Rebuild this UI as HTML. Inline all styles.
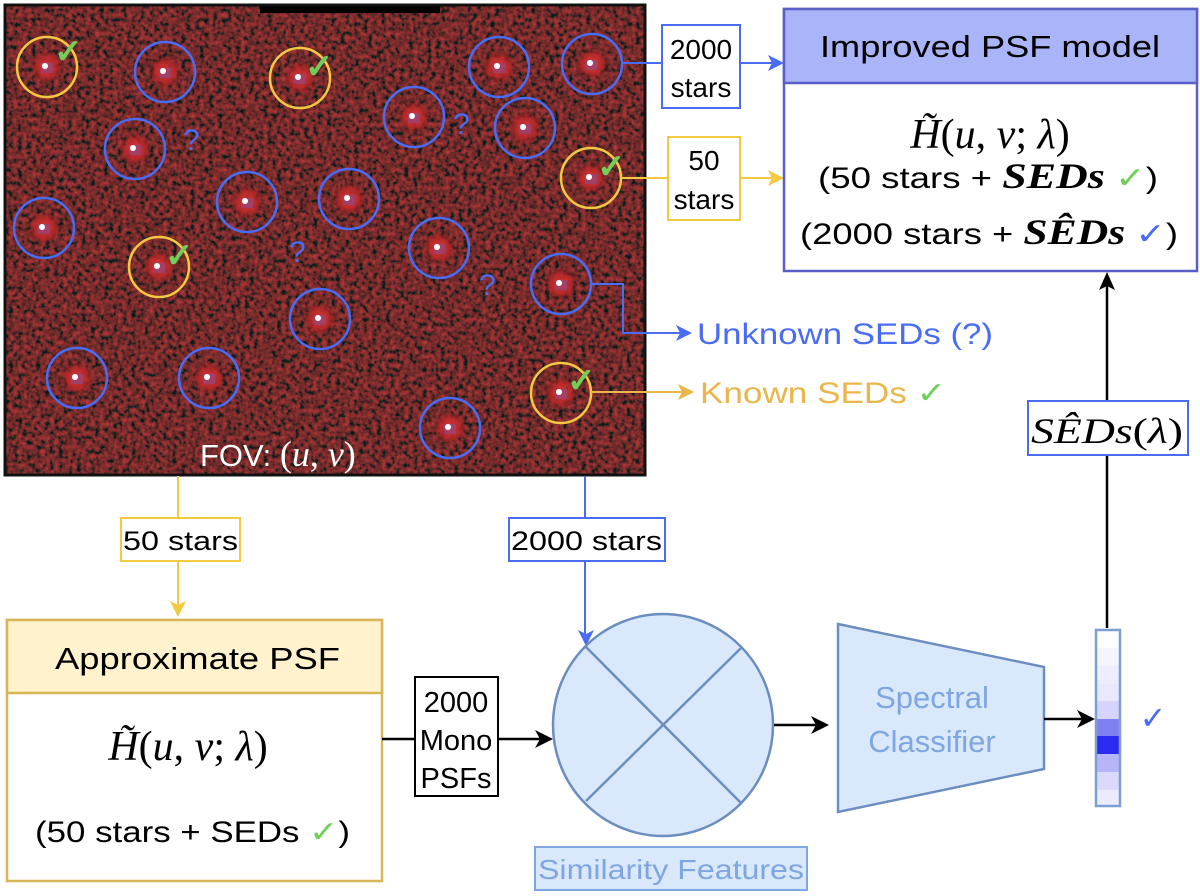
<!DOCTYPE html>
<html><head><meta charset="utf-8"><style>
html,body{margin:0;padding:0;background:#fff}
svg{display:block}
text{font-family:"Liberation Sans",sans-serif}
.m{font-family:"Liberation Serif",serif;font-style:italic}
</style></head><body>
<svg width="1200" height="896" viewBox="0 0 1200 896" xmlns="http://www.w3.org/2000/svg">
<defs>
<filter id="noise" x="0" y="0" width="100%" height="100%">
<feTurbulence type="fractalNoise" baseFrequency="0.22" numOctaves="2" seed="3" result="t"/>
<feColorMatrix type="matrix" values="1.0 0 0 0 -0.3  0.06 0 0 0 0  0.06 0 0 0 0  0 0 0 0 1"/>
</filter>
<radialGradient id="sg"><stop offset="0" stop-color="#e03a3a"/><stop offset="0.6" stop-color="#c02828" stop-opacity="0.8"/><stop offset="1" stop-color="#801818" stop-opacity="0"/></radialGradient>
<g id="star"><circle r="17" fill="url(#sg)"/><rect x="-6" y="-4" width="12" height="10" fill="#8a4a8a" opacity="0.6"/><circle cx="-2" cy="-1" r="3" fill="#fff"/></g>
</defs>

<rect x="5" y="5" width="640" height="470" fill="#520c0c"/>
<rect x="5" y="5" width="640" height="470" filter="url(#noise)" opacity="0.85"/>
<rect x="260" y="5" width="180" height="8" fill="#000"/>
<rect x="5" y="5" width="640" height="470" fill="none" stroke="#111" stroke-width="3"/>

<g>
<use href="#star" x="47" y="67"/><use href="#star" x="300" y="78"/><use href="#star" x="159" y="267"/><use href="#star" x="591" y="178"/><use href="#star" x="561" y="393"/>
<use href="#star" x="165" y="72"/><use href="#star" x="135" y="149"/><use href="#star" x="414" y="117"/><use href="#star" x="499" y="67"/><use href="#star" x="592" y="64"/><use href="#star" x="525" y="128"/><use href="#star" x="247" y="202"/><use href="#star" x="349" y="199"/><use href="#star" x="44" y="228"/><use href="#star" x="439" y="248"/><use href="#star" x="320" y="319"/><use href="#star" x="561" y="284"/><use href="#star" x="77" y="378"/><use href="#star" x="209" y="378"/><use href="#star" x="450" y="428"/>
</g>
<g fill="none" stroke="#f5c842" stroke-width="2.5">
<circle cx="47" cy="67" r="30"/><circle cx="300" cy="78" r="30"/><circle cx="159" cy="267" r="30"/><circle cx="591" cy="178" r="30"/><circle cx="561" cy="393" r="30"/>
</g>
<g fill="none" stroke="#4a6cf5" stroke-width="2.5">
<circle cx="165" cy="72" r="30"/><circle cx="135" cy="149" r="30"/><circle cx="414" cy="117" r="30"/><circle cx="499" cy="67" r="30"/><circle cx="592" cy="64" r="30"/><circle cx="525" cy="128" r="30"/><circle cx="247" cy="202" r="30"/><circle cx="349" cy="199" r="30"/><circle cx="44" cy="228" r="30"/><circle cx="439" cy="248" r="30"/><circle cx="320" cy="319" r="30"/><circle cx="561" cy="284" r="30"/><circle cx="77" cy="378" r="30"/><circle cx="209" cy="378" r="30"/><circle cx="450" cy="428" r="30"/>
</g>
<g fill="#6fcf5a" font-size="34" font-weight="bold">
<text x="54" y="63">✓</text><text x="305" y="78">✓</text><text x="165" y="267">✓</text><text x="597" y="178">✓</text><text x="567" y="392">✓</text>
</g>
<g fill="#4a6cf5" font-size="30">
<text x="183" y="150">?</text><text x="453" y="134">?</text><text x="289" y="262">?</text><text x="479" y="295">?</text>
</g>
<text x="200" y="466" fill="#fff" font-size="31">FOV: <tspan class="m" font-size="36" style="font-style:normal">(</tspan><tspan class="m" font-size="36">u</tspan><tspan class="m" font-size="36" style="font-style:normal">, </tspan><tspan class="m" font-size="36">v</tspan><tspan class="m" font-size="36" style="font-style:normal">)</tspan></text>

<line x1="622" y1="63" x2="780" y2="63" stroke="#4a6cf5" stroke-width="2"/>
<path d="M784,63 L768,55 L772,63 L768,71z" fill="#4a6cf5"/>
<rect x="662" y="25" width="78" height="83" fill="#fff" stroke="#4a6cf5" stroke-width="2"/>
<text x="701" y="59" font-size="28" text-anchor="middle">2000</text>
<text x="701" y="97" font-size="28" text-anchor="middle">stars</text>

<line x1="621" y1="178" x2="780" y2="178" stroke="#f5c842" stroke-width="2"/>
<path d="M784,178 L768,170 L772,178 L768,186z" fill="#f5c842"/>
<rect x="668" y="137" width="72" height="83" fill="#fff" stroke="#f5c842" stroke-width="2"/>
<text x="704" y="170" font-size="28" text-anchor="middle">50</text>
<text x="704" y="209" font-size="28" text-anchor="middle">stars</text>

<rect x="784" y="9" width="413" height="262" fill="#fff" stroke="#5a5fc8" stroke-width="2.5"/>
<rect x="784" y="9" width="413" height="74" fill="#aab4f8" stroke="#5a5fc8" stroke-width="2.5"/>
<text x="820" y="57" font-size="31" textLength="340" lengthAdjust="spacingAndGlyphs">Improved PSF model</text>
<text x="990" y="148" font-size="42" class="m" text-anchor="middle">H̃<tspan style="font-style:normal">(</tspan>u<tspan style="font-style:normal">, </tspan>v<tspan style="font-style:normal">; </tspan>λ<tspan style="font-style:normal">)</tspan></text>
<text x="818" y="188" font-size="30" textLength="340" lengthAdjust="spacingAndGlyphs">(50 stars + <tspan class="m" font-size="36" font-weight="bold">SEDs</tspan> <tspan fill="#6fcf5a">✓</tspan>)</text>
<text x="800" y="244" font-size="30" textLength="378" lengthAdjust="spacingAndGlyphs">(2000 stars + <tspan class="m" font-size="36" font-weight="bold">SÊDs</tspan> <tspan fill="#4a6cf5">✓</tspan>)</text>

<polyline points="591,284 623,284 623,333 688,333" fill="none" stroke="#4a6cf5" stroke-width="2"/>
<path d="M692,333 L676,325 L680,333 L676,341z" fill="#4a6cf5"/>
<text x="697" y="344" font-size="30" fill="#4a6cf5" textLength="296" lengthAdjust="spacingAndGlyphs">Unknown SEDs (?)</text>
<line x1="591" y1="392" x2="690" y2="392" stroke="#eab54a" stroke-width="2"/>
<path d="M694,392 L678,384 L682,392 L678,400z" fill="#eab54a"/>
<text x="700" y="403" font-size="30" fill="#eab54a" textLength="246" lengthAdjust="spacingAndGlyphs">Known SEDs <tspan fill="#6fcf5a">✓</tspan></text>

<line x1="1107" y1="628" x2="1107" y2="276" stroke="#000" stroke-width="2.5"/>
<path d="M1107,272 L1099,290 L1107,286 L1115,290z" fill="#000"/>
<rect x="1028" y="401" width="160" height="54" fill="#fff" stroke="#4a6cf5" stroke-width="2"/>
<text x="1031" y="443" font-size="36" class="m" textLength="152" lengthAdjust="spacingAndGlyphs">SÊDs<tspan style="font-style:normal">(</tspan>λ<tspan style="font-style:normal">)</tspan></text>

<line x1="178" y1="476" x2="178" y2="612" stroke="#f5c842" stroke-width="2"/>
<path d="M178,617 L170,601 L178,605 L186,601z" fill="#f5c842"/>
<rect x="121" y="518" width="119" height="43" fill="#fff" stroke="#f5c842" stroke-width="2"/>
<text x="123" y="550" font-size="27" textLength="115" lengthAdjust="spacingAndGlyphs">50 stars</text>

<line x1="585" y1="476" x2="585" y2="640" stroke="#4a6cf5" stroke-width="2"/>
<path d="M586,646 L578,630 L586,634 L594,630z" fill="#4a6cf5"/>
<rect x="509" y="518" width="156" height="43" fill="#fff" stroke="#4a6cf5" stroke-width="2"/>
<text x="511" y="550" font-size="27" textLength="151" lengthAdjust="spacingAndGlyphs">2000 stars</text>

<rect x="7" y="620" width="375" height="261" fill="#fff" stroke="#d6b656" stroke-width="2.5"/>
<rect x="7" y="620" width="375" height="73" fill="#fff2cc" stroke="#d6b656" stroke-width="2.5"/>
<text x="55" y="669" font-size="31" textLength="285" lengthAdjust="spacingAndGlyphs">Approximate PSF</text>
<text x="188" y="760" font-size="42" class="m" text-anchor="middle">H̃<tspan style="font-style:normal">(</tspan>u<tspan style="font-style:normal">, </tspan>v<tspan style="font-style:normal">; </tspan>λ<tspan style="font-style:normal">)</tspan></text>
<text x="35" y="842" font-size="30" textLength="315" lengthAdjust="spacingAndGlyphs">(50 stars + SEDs <tspan fill="#6fcf5a">✓</tspan>)</text>

<line x1="382" y1="739" x2="548" y2="739" stroke="#000" stroke-width="2.5"/>
<path d="M553,739 L535,730 L540,739 L535,748z" fill="#000"/>
<rect x="415" y="677" width="83" height="119" fill="#fff" stroke="#000" stroke-width="2"/>
<text x="456" y="712" font-size="29" text-anchor="middle">2000</text>
<text x="456" y="750" font-size="29" text-anchor="middle">Mono</text>
<text x="456" y="788" font-size="29" text-anchor="middle">PSFs</text>

<ellipse cx="663" cy="725" rx="110" ry="111" fill="#dae8fc" stroke="#6c8ebf" stroke-width="2.5"/>
<line x1="586" y1="647" x2="741" y2="803" stroke="#6c8ebf" stroke-width="2.5"/>
<line x1="741" y1="648" x2="586" y2="801" stroke="#6c8ebf" stroke-width="2.5"/>
<rect x="535" y="847" width="272" height="43" fill="#dae8fc" stroke="#7ea6e0" stroke-width="2"/>
<text x="538" y="879" font-size="28" fill="#7ea6e0" textLength="266" lengthAdjust="spacingAndGlyphs">Similarity Features</text>

<line x1="774" y1="725" x2="824" y2="725" stroke="#000" stroke-width="2.5"/>
<path d="M829,725 L811,716 L816,725 L811,734z" fill="#000"/>

<polygon points="838,624 1044,667 1044,769 838,812" fill="#dae8fc" stroke="#6c8ebf" stroke-width="2.5"/>
<text x="932" y="708" font-size="31" fill="#7ea6e0" text-anchor="middle">Spectral</text>
<text x="932" y="752" font-size="31" fill="#7ea6e0" text-anchor="middle">Classifier</text>

<line x1="1044" y1="719" x2="1090" y2="719" stroke="#000" stroke-width="2.5"/>
<path d="M1095,719 L1077,710 L1082,719 L1077,728z" fill="#000"/>

<g>
<rect x="1096" y="630" width="24" height="18" fill="#fefefe"/>
<rect x="1096" y="648" width="24" height="18" fill="#f4f4ff"/>
<rect x="1096" y="666" width="24" height="18" fill="#ededff"/>
<rect x="1096" y="684" width="24" height="17" fill="#e8e8ff"/>
<rect x="1096" y="701" width="24" height="18" fill="#d6d4fc"/>
<rect x="1096" y="719" width="24" height="17" fill="#8080f0"/>
<rect x="1096" y="736" width="24" height="18" fill="#2a2af0"/>
<rect x="1096" y="754" width="24" height="18" fill="#b8b4f8"/>
<rect x="1096" y="772" width="24" height="18" fill="#dcdafc"/>
<rect x="1096" y="790" width="24" height="16" fill="#ecebfd"/>
<rect x="1096" y="630" width="24" height="176" fill="none" stroke="#7c9ed0" stroke-width="2.5"/>
</g>
<text x="1153" y="729" font-size="32" fill="#4a6cf5" text-anchor="middle">✓</text>
</svg>
</body></html>
